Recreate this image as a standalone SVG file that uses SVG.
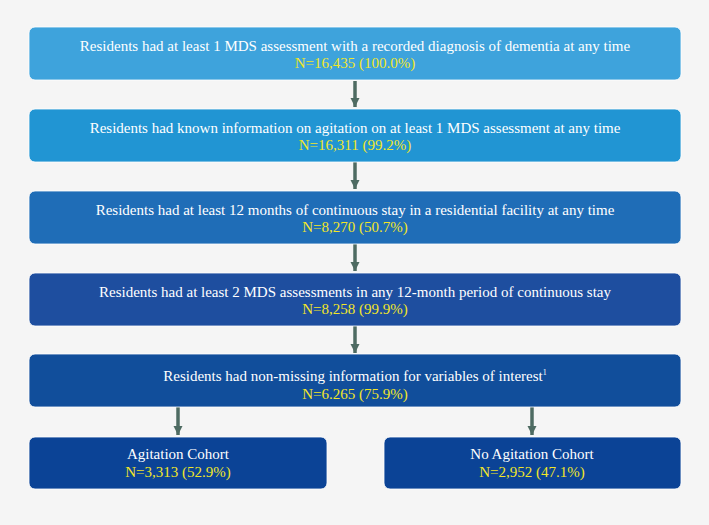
<svg xmlns="http://www.w3.org/2000/svg" width="709" height="525" viewBox="0 0 709 525">
<style>
.box{stroke:#ffffff;stroke-width:1;stroke-opacity:0.8}
text{font-family:"Liberation Serif","Times New Roman",serif;font-size:15px;text-anchor:middle}
.w{fill:#ffffff}
.y{fill:#f2e628}
.arr{stroke:#4e6b62;stroke-width:3.5;fill:none}
</style>
<defs>
<marker id="ah" viewBox="0 0 10 10" refX="10" refY="5" markerWidth="2.6" markerHeight="2.6" orient="auto" markerUnits="strokeWidth">
<path d="M0,0 L10,5 L0,10 z" fill="#4e6b62"/>
</marker>
</defs>
<rect width="709" height="525" fill="#f5f5f5"/>
<g id="connectors">
<line class="arr" x1="355" y1="81" x2="355" y2="107" marker-end="url(#ah)"/>
<line class="arr" x1="355" y1="162" x2="355" y2="189" marker-end="url(#ah)"/>
<line class="arr" x1="355" y1="244" x2="355" y2="271" marker-end="url(#ah)"/>
<line class="arr" x1="355" y1="326" x2="355" y2="353" marker-end="url(#ah)"/>
<line class="arr" x1="178" y1="407" x2="178" y2="435" marker-end="url(#ah)"/>
<line class="arr" x1="532" y1="407" x2="532" y2="435" marker-end="url(#ah)"/>
</g>
<g id="n1">
<rect class="box" x="29" y="27" width="652" height="53" rx="6" fill="#3ea3dc"/>
<text class="w" x="355" y="51">Residents had at least 1 MDS assessment with a recorded diagnosis of dementia at any time</text>
<text class="y" x="355" y="68">N=16,435 (100.0%)</text>
</g>
<g id="n2">
<rect class="box" x="29" y="109" width="652" height="53" rx="6" fill="#2195d3"/>
<text class="w" x="355" y="133">Residents had known information on agitation on at least 1 MDS assessment at any time</text>
<text class="y" x="355" y="150">N=16,311 (99.2%)</text>
</g>
<g id="n3">
<rect class="box" x="29" y="191" width="652" height="53" rx="6" fill="#1f6db7"/>
<text class="w" x="355" y="215">Residents had at least 12 months of continuous stay in a residential facility at any time</text>
<text class="y" x="355" y="232">N=8,270 (50.7%)</text>
</g>
<g id="n4">
<rect class="box" x="29" y="273" width="652" height="53" rx="6" fill="#1e4e9f"/>
<text class="w" x="355" y="297">Residents had at least 2 MDS assessments in any 12-month period of continuous stay</text>
<text class="y" x="355" y="314">N=8,258 (99.9%)</text>
</g>
<g id="n5">
<rect class="box" x="29" y="354" width="652" height="53" rx="6" fill="#114e9b"/>
<text class="w" x="355" y="381">Residents had non-missing information for variables of interest<tspan font-size="8" dy="-6">1</tspan></text>
<text class="y" x="355" y="399">N=6.265 (75.9%)</text>
</g>
<g id="n6">
<rect class="box" x="29" y="437" width="298" height="52" rx="6" fill="#0b4396"/>
<text class="w" x="178" y="459">Agitation Cohort</text>
<text class="y" x="178" y="477">N=3,313 (52.9%)</text>
</g>
<g id="n7">
<rect class="box" x="384" y="437" width="297" height="52" rx="6" fill="#0b4396"/>
<text class="w" x="532" y="459">No Agitation Cohort</text>
<text class="y" x="532" y="477">N=2,952 (47.1%)</text>
</g>
</svg>
